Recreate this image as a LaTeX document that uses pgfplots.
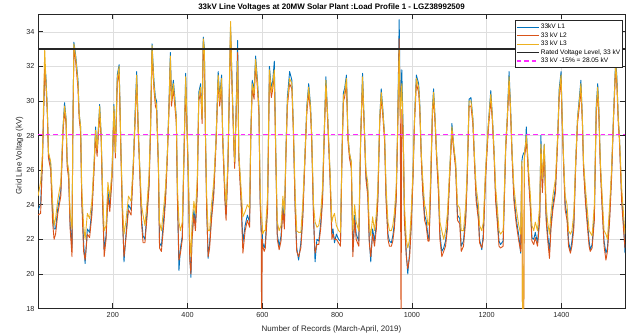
\documentclass[border=0pt]{standalone}
\usepackage{pgfplots}
\pgfplotsset{compat=1.18}
\usepackage{pgfplotstable}
\usepackage{fontspec}
\setmainfont{Liberation Sans}
\definecolor{mblue}{RGB}{0,114,189}
\definecolor{morange}{RGB}{217,83,25}
\definecolor{myellow}{RGB}{237,177,32}
\definecolor{axgray}{RGB}{38,38,38}
\definecolor{gridgray}{RGB}{222,222,222}
\definecolor{mmag}{RGB}{255,40,255}

\pgfplotstableread{
x L3 L1 L2
0 24.5 23.7 23.4
7 25.3 24.0 23.5
12 27.0 26.8 26.5
18 33.0 31.8 32.0
21 31.3 31.5 31.0
25 29.5 29.5 29.2
28 27.0 27.0 26.7
34 26.5 26.3 26.0
39 24.2 23.6 23.0
43 22.8 22.6 22.0
47 23.2 22.6 22.3
53 24.3 23.8 23.5
61 25.3 24.8 24.5
67 28.5 28.5 28.2
71 29.7 29.9 29.4
75 29.0 29.0 28.7
78 26.5 26.5 26.2
82 26.0 25.8 25.5
86 23.5 22.8 22.6
91 22.6 21.5 21.0
93 28.0 28.0 27.7
96 33.3 33.4 33.0
101 32.5 32.6 32.2
107 31.0 31.2 30.7
110 29.3 29.3 29.0
114 28.5 28.5 28.2
117 25.0 24.5 24.2
122 22.8 21.8 21.3
126 22.0 20.6 20.8
132 23.5 22.6 22.3
138 23.2 22.4 22.1
144 24.2 23.7 23.4
150 26.5 26.3 26.0
154 28.3 28.5 28.0
158 27.2 27.0 26.8
165 29.7 29.8 29.3
169 28.0 28.0 27.7
173 24.7 24.2 23.9
177 22.5 21.4 21.0
182 22.8 22.2 22.0
187 25.3 24.8 24.5
192 24.4 23.9 23.6
198 26.0 25.8 25.5
203 29.7 29.8 29.4
207 27.0 27.0 26.7
212 31.3 31.5 31.0
217 32.0 32.1 31.6
222 27.0 27.0 26.7
226 24.0 23.5 23.1
230 22.3 20.7 21.0
235 23.0 22.2 22.0
242 24.5 24.0 23.7
249 24.2 23.7 23.4
255 26.5 26.4 26.1
261 29.8 30.1 29.5
264 31.5 31.7 31.1
268 28.5 28.5 28.2
272 26.3 26.2 25.9
277 24.0 23.2 22.9
281 23.4 22.2 21.8
286 22.8 22.0 21.8
292 24.2 23.7 23.4
297 25.7 25.3 25.0
301 28.5 28.5 28.2
305 33.2 33.3 32.8
310 31.0 31.2 30.7
314 30.0 30.2 29.7
317 29.8 30.0 29.5
322 26.5 26.4 26.1
325 23.0 21.8 21.5
330 22.5 21.6 21.3
337 24.0 23.4 23.0
341 25.0 24.5 24.2
346 27.0 27.0 26.7
350 29.5 29.6 29.2
354 32.6 32.8 32.2
357 30.0 30.2 29.7
362 31.0 31.2 30.7
366 30.0 30.2 29.7
370 29.0 29.0 28.7
373 25.0 24.5 24.2
377 23.0 20.2 20.8
381 22.5 21.5 21.2
386 23.0 22.2 22.0
390 26.6 26.5 26.2
395 31.4 31.6 31.0
402 26.0 25.8 25.5
406 22.0 21.0 20.8
409 21.0 19.8 20.0
412 23.0 22.3 22.0
417 24.2 23.7 23.4
421 23.5 22.8 22.5
426 25.5 25.0 24.7
430 30.3 30.5 30.0
435 30.8 31.0 30.5
439 29.0 29.0 28.7
442 33.6 33.7 33.2
445 33.0 33.1 32.6
448 28.0 28.0 27.7
451 24.6 24.1 23.8
455 22.5 20.9 21.0
459 22.5 21.8 21.5
464 24.0 23.4 23.1
470 25.3 24.8 24.5
476 27.7 27.7 27.4
482 31.5 31.7 31.1
486 30.0 30.2 29.7
491 31.3 31.5 31.0
494 28.0 28.0 27.7
500 25.0 24.5 24.2
503 24.0 23.4 23.1
508 26.5 26.4 26.1
515 34.6 34.3 34.0
519 31.0 31.2 30.7
524 27.5 27.5 27.2
526 26.5 26.4 26.1
530 29.5 29.6 29.2
534 32.3 33.5 32.8
537 27.0 27.0 26.7
543 25.0 24.5 24.2
548 23.3 21.8 21.2
554 23.6 22.8 22.5
560 24.0 23.4 23.1
566 23.8 23.0 22.7
569 28.0 28.0 27.7
573 31.0 31.2 30.7
578 30.4 30.6 30.1
582 32.4 32.6 32.1
587 31.0 31.2 30.7
591 29.5 29.6 29.2
594 25.0 24.5 24.2
597 23.3 22.5 22.4
598 23.3 22.5 17.0
600 22.8 22.3 22.0
601 22.3 21.8 21.6
605 22.5 21.5 21.3
608 22.5 21.8 21.5
614 24.5 24.0 23.7
619 31.8 32.0 31.5
624 30.5 30.7 30.2
628 31.0 31.2 30.7
632 31.8 32.3 31.5
636 27.0 27.0 26.7
640 23.0 22.3 22.0
645 22.5 21.6 21.4
650 22.8 22.2 21.9
655 24.5 24.0 23.7
659 23.5 22.9 22.6
663 27.0 27.0 26.7
667 30.0 30.2 29.7
673 31.3 31.7 31.0
679 31.0 31.2 30.7
683 28.5 28.5 28.2
688 24.5 23.8 23.5
692 22.5 21.5 21.3
697 22.4 20.8 21.0
703 22.4 21.8 21.5
708 24.0 23.4 23.1
713 26.4 26.3 26.0
719 29.6 29.7 29.3
724 30.8 31.0 30.5
729 29.6 29.7 29.3
732 28.0 28.0 27.7
737 24.0 23.4 23.1
741 23.0 20.7 21.2
746 22.7 22.0 21.7
751 22.8 21.9 21.7
756 23.5 22.9 22.6
761 25.0 24.5 24.2
766 28.5 28.5 28.2
770 31.2 31.4 30.9
775 29.0 29.0 28.7
781 26.0 25.8 25.5
786 23.0 22.3 22.0
789 23.3 22.6 22.3
793 23.5 21.8 22.0
798 22.8 22.3 22.0
804 22.5 22.0 21.8
809 22.4 21.9 21.6
813 27.0 27.0 26.7
817 30.3 30.5 30.0
820 30.5 30.7 30.2
825 31.3 31.5 31.0
829 28.0 28.0 27.7
833 27.0 27.0 26.7
838 26.5 26.4 26.1
842 22.5 21.3 21.0
847 24.0 23.4 23.1
851 23.0 22.3 22.0
858 22.5 21.9 21.6
863 28.0 28.0 27.7
868 31.4 31.6 31.1
873 28.4 28.4 28.1
877 26.0 25.8 25.5
882 25.3 24.8 24.5
886 22.8 22.0 21.8
890 22.2 20.7 21.0
895 23.3 22.6 22.3
900 22.5 21.9 21.6
905 23.5 22.9 22.6
909 25.0 24.5 24.2
914 29.0 29.0 28.7
918 30.5 30.7 30.2
922 29.5 29.6 29.2
927 28.0 28.0 27.7
931 25.0 24.5 24.2
936 23.0 22.3 22.0
940 22.5 21.9 21.6
945 22.5 21.8 21.6
949 22.8 22.2 21.9
953 23.5 22.9 22.6
958 25.0 24.5 24.2
962 28.5 28.5 28.2
966 33.0 34.7 33.6
969 29.0 29.5 28.7
971 30.0 30.5 17.0
973 31.0 31.8 29.5
977 28.0 28.0 27.7
980 24.0 23.4 23.1
985 22.0 21.2 21.0
989 21.5 20.0 20.3
994 22.0 21.3 21.0
998 23.5 22.9 22.6
1003 26.0 25.8 25.5
1007 29.0 29.0 28.7
1012 31.3 31.5 31.0
1018 30.8 31.0 30.5
1021 29.8 29.9 29.5
1025 27.0 27.0 26.7
1029 25.5 25.0 24.7
1034 24.0 23.4 23.1
1038 23.7 23.1 22.8
1043 22.8 22.2 21.9
1046 23.0 22.0 21.9
1050 25.5 25.0 24.7
1055 29.5 29.6 29.2
1058 30.5 30.7 30.2
1062 29.0 29.0 28.7
1066 27.0 27.0 26.7
1071 25.5 25.0 24.7
1075 23.0 22.3 22.0
1080 22.5 21.3 21.0
1085 22.0 21.5 21.3
1090 22.5 21.9 21.6
1095 23.5 22.9 22.6
1101 26.0 25.8 25.5
1107 28.5 28.7 28.2
1113 27.2 27.1 26.9
1117 26.5 26.4 26.1
1122 24.0 23.4 23.1
1128 23.8 23.2 22.9
1132 22.5 21.6 21.3
1138 22.5 21.9 21.6
1144 24.0 23.4 23.1
1148 26.0 25.8 25.5
1153 30.0 30.1 29.7
1158 30.0 30.2 29.7
1163 29.0 29.0 28.7
1168 26.5 26.4 26.1
1172 25.0 24.5 24.2
1178 24.0 23.4 23.1
1181 22.8 22.0 21.8
1187 22.5 21.4 21.5
1191 23.0 22.3 22.0
1197 26.0 25.8 25.5
1204 28.5 28.5 28.2
1211 30.4 30.6 30.1
1215 29.2 29.2 28.9
1220 27.0 27.0 26.7
1224 25.0 24.5 24.2
1228 24.0 23.4 23.1
1233 22.5 21.9 21.6
1237 22.3 21.7 21.5
1244 22.5 21.9 21.6
1251 27.5 27.5 27.2
1255 29.0 29.0 28.7
1260 31.4 31.7 31.1
1264 29.5 29.6 29.2
1268 27.0 27.0 26.7
1273 25.0 24.5 24.2
1279 23.8 23.2 22.9
1286 22.8 22.2 21.9
1291 22.3 21.2 21.3
1294 26.5 26.5 26.2
1296 17.0 26.8 17.0
1299 17.0 27.0 17.0
1301 27.0 27.0 26.7
1304 27.5 27.5 27.2
1306 28.0 28.5 27.7
1308 27.5 27.5 27.2
1312 26.0 25.8 25.5
1317 24.5 24.0 23.7
1321 22.8 22.1 21.9
1326 22.5 22.0 21.7
1330 23.0 22.4 22.1
1336 22.5 21.8 21.6
1342 24.0 23.4 23.1
1345 27.5 28.0 27.2
1349 25.5 25.0 24.7
1354 27.5 27.5 27.2
1359 24.0 23.4 23.1
1363 23.0 22.3 22.0
1368 22.3 21.3 20.9
1372 23.5 22.9 22.6
1377 24.5 24.0 23.7
1384 25.5 25.0 24.7
1390 28.0 28.0 27.7
1394 30.5 30.7 30.2
1399 31.5 31.7 31.2
1402 29.0 29.0 28.7
1406 26.5 26.4 26.1
1410 24.5 24.0 23.7
1415 24.0 23.4 23.1
1419 22.5 21.9 21.6
1424 22.3 21.3 21.2
1428 22.5 21.9 21.6
1433 23.5 22.9 22.6
1438 26.5 26.4 26.1
1443 29.0 29.0 28.7
1448 30.0 30.2 29.7
1452 31.0 31.2 30.7
1456 29.0 29.0 28.7
1459 26.5 26.4 26.1
1464 25.0 24.5 24.2
1468 24.0 23.4 23.1
1474 22.5 21.9 21.6
1477 22.4 21.4 21.3
1482 22.2 21.7 21.5
1488 24.0 23.4 23.1
1493 29.5 29.7 29.2
1497 30.8 31.0 30.5
1500 29.5 29.6 29.2
1504 26.5 26.4 26.1
1509 24.5 24.0 23.7
1514 22.5 21.9 21.6
1519 22.3 21.2 20.8
1523 22.0 21.5 21.3
1529 24.0 23.4 23.1
1534 26.0 25.8 25.5
1539 29.0 29.0 28.7
1545 32.2 32.4 31.9
1548 31.3 31.5 31.0
1552 29.0 29.0 28.7
1555 28.0 28.0 27.7
1561 25.0 24.5 24.2
1566 23.5 22.9 22.6
1570 22.3 21.2 21.5
}\voltdata

\begin{document}
\begin{tikzpicture}
\path[use as bounding box] (-38bp,-27.5bp) rectangle (593bp,308.5bp);
\begin{axis}[
  at={(0,0)}, anchor=south west,
  scale only axis, width=587bp, height=294bp,
  xmin=0, xmax=1570, ymin=18, ymax=35,
  xtick={200,400,...,1400}, ytick={18,20,...,34},
  grid=major, major grid style={gridgray, line width=0.5bp},
  axis line style={axgray, line width=0.6bp},
  tick style={axgray, line width=0.6bp},
  major tick length=5bp,
  tick align=inside,
  ticklabel style={font=\fontsize{7.3}{8}\selectfont, text=axgray},
  /pgf/number format/assume math mode=true,
  /pgf/number format/1000 sep={},
  every axis title/.style={font=\bfseries\fontsize{8}{9}\selectfont, at={(0.5,1.025)}, anchor=center},
  title={33kV Line Voltages at 20MW Solar Plant :Load Profile 1 - LGZ38992509},
  xlabel={Number of Records (March-April, 2019)},
  ylabel={Grid Line Voltage (kV)},
  xlabel style={font=\fontsize{8}{9}\selectfont, text=axgray, at={(axis description cs:0.5,-0.072)}, anchor=center},
  ylabel style={font=\fontsize{8}{9}\selectfont, text=axgray, at={(axis description cs:-0.0315,0.52)}, anchor=center},
  legend style={at={(axis description cs:0.9966,0.9796)}, anchor=north east,
    font=\fontsize{6.6}{7}\selectfont, draw=axgray, line width=0.6bp, fill=white,
    inner xsep=1bp, inner ysep=1bp, row sep=-2.2bp,
    nodes={inner xsep=1.5bp, inner ysep=2.2bp}},
  legend cell align=left,
  legend image code/.code={\draw[#1] (0bp,0bp) -- (22bp,0bp);},
  clip=true,
]
\addplot[mblue, line width=0.9bp, line join=round] table[x=x, y=L1] {\voltdata};
\addlegendentry{33kV L1}
\addplot[morange, line width=0.9bp, line join=round] table[x=x, y=L2] {\voltdata};
\addlegendentry{33 kV L2}
\addplot[myellow, line width=0.9bp, line join=round] table[x=x, y=L3] {\voltdata};
\addlegendentry{33 kV L3}
\addplot[black!85, line width=1.2bp] coordinates {(0,33) (1570,33)};
\addlegendentry{Rated Voltage Level, 33 kV}
\addplot[mmag, line width=1.2bp, dash pattern=on 4.5bp off 3bp] coordinates {(0,28.05) (1570,28.05)};
\addlegendentry{33 kV -15\% = 28.05 kV}
\end{axis}
\end{tikzpicture}
\end{document}
